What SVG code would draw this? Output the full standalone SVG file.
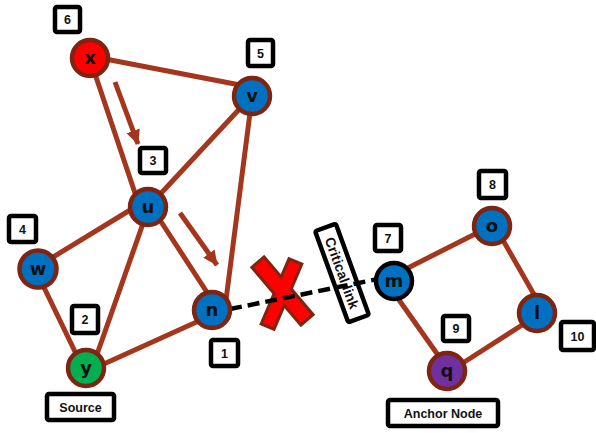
<svg xmlns="http://www.w3.org/2000/svg" width="596" height="433" viewBox="0 0 596 433">
<style>
.edge{stroke:#A3361C;stroke-width:5;fill:none;stroke-linecap:round}
.node circle{stroke:#7E2410;stroke-width:4.5}
.node text{font-family:"DejaVu Sans","Liberation Sans",sans-serif;font-weight:bold;font-size:18px;text-anchor:middle;fill:#111}
.lbl rect{fill:#fff;stroke:#000;stroke-width:4.5}
.lbl text{font-family:"Liberation Sans",Arial,sans-serif;font-weight:bold;font-size:12.5px;text-anchor:middle;fill:#111}
.blue{fill:#0070C0}
</style>
<defs>
<marker id="ah" markerUnits="userSpaceOnUse" markerWidth="16" markerHeight="16" refX="14" refY="8" orient="auto">
<path d="M0,1 L15,8 L0,15 Z" fill="#A3361C"/>
</marker>
</defs>
<g id="connectors">
<line class="edge" x1="95" y1="57" x2="240" y2="85"/>
<line class="edge" x1="92" y1="65" x2="139" y2="205"/>
<line class="edge" x1="245" y1="103" x2="152" y2="203"/>
<line class="edge" x1="251" y1="105" x2="226" y2="300"/>
<line class="edge" x1="140" y1="204" x2="45" y2="262"/>
<line class="edge" x1="146" y1="215" x2="95" y2="360"/>
<line class="edge" x1="156" y1="214" x2="212" y2="300"/>
<line class="edge" x1="38" y1="275" x2="80" y2="362"/>
<line class="edge" x1="95" y1="368" x2="212" y2="315"/>
<line class="edge" x1="394" y1="275" x2="485" y2="229"/>
<line class="edge" x1="500" y1="235" x2="540" y2="305"/>
<line class="edge" x1="530" y1="320" x2="455" y2="368"/>
<line class="edge" x1="392" y1="290" x2="445" y2="365"/>
<line x1="115" y1="82" x2="138" y2="144" stroke="#A3361C" stroke-width="5" marker-end="url(#ah)"/>
<line x1="180" y1="213" x2="217" y2="265" stroke="#A3361C" stroke-width="5" marker-end="url(#ah)"/>
</g>
<g id="cross">
<line x1="257" y1="261" x2="308" y2="321" stroke="#7E2410" stroke-width="19"/>
<line x1="296" y1="260" x2="267" y2="328" stroke="#7E2410" stroke-width="17"/>
<line x1="259.2" y1="263.3" x2="305.8" y2="318.7" stroke="#FF0000" stroke-width="13"/>
<line x1="294.8" y1="262.8" x2="268.2" y2="325.2" stroke="#FF0000" stroke-width="11"/>
</g>
<g id="critical-link-label" class="lbl" transform="translate(342 273) rotate(70)">
<rect x="-48.5" y="-11" width="97" height="22" rx="2"/>
<text x="0" y="5" style="font-size:14px">Critical link</text>
</g>
<g id="critical-link">
<line x1="230" y1="309" x2="378" y2="279" stroke="#000" stroke-width="4.5" stroke-dasharray="12 6"/>
</g>
<g id="node-x" class="node"><circle cx="90" cy="58" r="18" fill="#FF0000"/><text x="90" y="64">x</text></g>
<g id="node-v" class="node"><circle cx="252" cy="96" r="18" class="blue"/><text x="252" y="102">v</text></g>
<g id="node-u" class="node"><circle cx="148" cy="207" r="18" class="blue"/><text x="148" y="213">u</text></g>
<g id="node-w" class="node"><circle cx="38" cy="269" r="18.5" class="blue"/><text x="38" y="275">w</text></g>
<g id="node-y" class="node"><circle cx="86" cy="368" r="18" fill="#00B050"/><text x="86" y="374">y</text></g>
<g id="node-n" class="node"><circle cx="212" cy="310" r="18" class="blue"/><text x="212" y="316">n</text></g>
<g id="node-m" class="node"><circle cx="394" cy="281" r="18" class="blue" style="stroke:#000"/><text x="394" y="287">m</text></g>
<g id="node-o" class="node"><circle cx="492" cy="226" r="18" class="blue"/><text x="492" y="232">o</text></g>
<g id="node-l" class="node"><circle cx="537" cy="313" r="18" class="blue"/><text x="537" y="319">l</text></g>
<g id="node-q" class="node"><circle cx="447" cy="371" r="18" fill="#7030A0"/><text x="447" y="377">q</text></g>
<g id="label-6" class="lbl"><rect x="55" y="7" width="25" height="25" rx="2"/><text x="67.5" y="24">6</text></g>
<g id="label-5" class="lbl"><rect x="248" y="40" width="25" height="26" rx="2"/><text x="260.5" y="57.5">5</text></g>
<g id="label-3" class="lbl"><rect x="140" y="148" width="26" height="25" rx="2"/><text x="153" y="165">3</text></g>
<g id="label-4" class="lbl"><rect x="9" y="216" width="27" height="26" rx="2"/><text x="22.5" y="233.5">4</text></g>
<g id="label-2" class="lbl"><rect x="72" y="306" width="26" height="27" rx="2"/><text x="85" y="324">2</text></g>
<g id="label-1" class="lbl"><rect x="211" y="340" width="27" height="26" rx="2"/><text x="224.5" y="357.5">1</text></g>
<g id="label-source" class="lbl"><rect x="47" y="394" width="67" height="26" rx="2"/><text x="80.5" y="411.5">Source</text></g>
<g id="label-7" class="lbl"><rect x="375" y="225" width="26" height="26" rx="2"/><text x="388" y="242.5">7</text></g>
<g id="label-8" class="lbl"><rect x="479" y="171" width="27" height="27" rx="2"/><text x="492.5" y="189">8</text></g>
<g id="label-9" class="lbl"><rect x="443" y="316" width="26" height="25" rx="2"/><text x="456" y="333">9</text></g>
<g id="label-10" class="lbl"><rect x="561" y="322" width="33" height="28" rx="2"/><text x="577.5" y="340.5">10</text></g>
<g id="label-anchor" class="lbl"><rect x="388" y="400" width="110" height="26" rx="2"/><text x="443" y="417.5">Anchor Node</text></g>
</svg>
